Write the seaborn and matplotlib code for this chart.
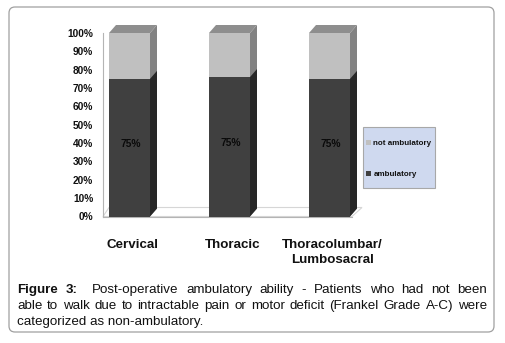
import matplotlib
matplotlib.use("Agg")
import matplotlib.pyplot as plt
import matplotlib.transforms as mtransforms
from matplotlib.patches import Polygon, Rectangle, FancyBboxPatch
import seaborn as sns
import pandas as pd

# data
regions = ["Cervical", "Thoracic", "Thoracolumbar/\nLumbosacral"]
ambulatory = [75, 76, 75]
not_ambulatory = [25, 24, 25]
value_labels = ["75%", "75%", "75%"]
series_labels = ["not ambulatory", "ambulatory"]
yticks = [0, 10, 20, 30, 40, 50, 60, 70, 80, 90, 100]
ytick_labels = [f"{v}%" for v in yticks]
caption_lines = [
    "Figure 3:  Post-operative ambulatory ability - Patients who had not been",
    "able to walk due to intractable pain or motor deficit (Frankel Grade A-C) were",
    "categorized as non-ambulatory.",
]

DARK, DARK_SIDE = "#404040", "#272727"
LIGHT, LIGHT_SIDE, LIGHT_TOP = "#c0c0c0", "#828282", "#8e8e8e"
TXT = "#111111"


def add_depth(ax, patch, side_color, top_color=None, ddx=0.0, ddy=0.0):
    x0, y0 = patch.get_x(), patch.get_y()
    x1, y1 = x0 + patch.get_width(), y0 + patch.get_height()
    side = Polygon([(x1, y0), (x1 + ddx, y0 + ddy), (x1 + ddx, y1 + ddy), (x1, y1)],
                   closed=True, facecolor=side_color, edgecolor="none",
                   clip_on=False, zorder=patch.get_zorder())
    ax.add_patch(side)
    if top_color is not None:
        top = Polygon([(x0, y1), (x1, y1), (x1 + ddx, y1 + ddy), (x0 + ddx, y1 + ddy)],
                      closed=True, facecolor=top_color, edgecolor="none",
                      clip_on=False, zorder=patch.get_zorder())
        ax.add_patch(top)


def justified_line(fig, renderer, text, y, x0, x1, size=9.6):
    words = text.split(" ")
    gaps = []
    items = []
    for w in words:
        if w == "":
            gaps[-1] += 1
            continue
        items.append(w)
        gaps.append(1)
    gaps = gaps[:-1]
    texts = []
    for i, w in enumerate(items):
        bold = i < 2 and text.startswith("Figure")
        texts.append(fig.text(0, y, w, transform=fig.dpi_scale_trans, fontsize=size,
                              weight="bold" if bold else "normal", va="baseline",
                              color=TXT))
    widths = [t.get_window_extent(renderer).width / fig.dpi for t in texts]
    unit = (x1 - x0 - sum(widths)) / sum(gaps)
    x = x0
    for i, t in enumerate(texts):
        t.set_x(x)
        x += widths[i] + (gaps[i] * unit if i < len(gaps) else 0)


def main():
    sns.set_style("white")
    plt.rcParams["font.family"] = ["Liberation Sans", "DejaVu Sans"]

    W, H = 505, 343
    fig = plt.figure(figsize=(W / 100, H / 100), dpi=100)
    ax = fig.add_axes([103 / W, (H - 216.5) / H, 249 / W, 183.5 / H])
    ax.patch.set_alpha(0)

    df = pd.DataFrame({"Region": regions, "ambulatory": ambulatory,
                       "not ambulatory": not_ambulatory})
    df["total"] = df["ambulatory"] + df["not ambulatory"]

    sns.barplot(data=df, x="Region", y="total", color=LIGHT, saturation=1,
                width=0.41, linewidth=0, ax=ax, zorder=3)
    sns.barplot(data=df, x="Region", y="ambulatory", color=DARK, saturation=1,
                width=0.41, linewidth=0, ax=ax, zorder=4)
    ax.set_xlim(-0.265, 2.225)
    ax.set_ylim(0, 100)

    # pixel depth of the fake 3D look, converted to data units
    ddx = 7 * (2.225 + 0.265) / 249
    ddy = 8 * 100 / 183.5
    light_bars, dark_bars = ax.containers[0], ax.containers[1]
    for p in light_bars:
        add_depth(ax, p, LIGHT_SIDE, LIGHT_TOP, ddx, ddy)
    for p in dark_bars:
        add_depth(ax, p, DARK_SIDE, None, ddx, ddy)

    # floor
    fx0, fx1 = ax.get_xlim()
    fdx = 10 * (fx1 - fx0) / 249
    fdy = 9 * 100 / 183.5
    floor = Polygon([(fx0, 0), (fx1, 0), (fx1 + fdx, fdy), (fx0 + fdx * 0.6, fdy)],
                    closed=True, facecolor="white", edgecolor="#d6d6d6", lw=0.8,
                    clip_on=False, zorder=1)
    ax.add_patch(floor)

    for t in ax.bar_label(dark_bars, labels=value_labels, label_type="center",
                          fontsize=7.4, weight="bold", color="#0a0a0a"):
        t.set_zorder(10)
        x, y = t.get_position()
        t.set_position((x + 1, y + 3))

    sns.despine(ax=ax)
    for s in ("left", "bottom"):
        ax.spines[s].set_color("#b4b4b4")
        ax.spines[s].set_linewidth(0.8)
    ax.set_yticks(yticks)
    ax.set_yticklabels(ytick_labels, fontsize=7.3, weight="bold", color=TXT)
    ax.tick_params(axis="y", length=0, pad=7)
    ax.tick_params(axis="x", length=0, pad=16.5)
    ax.set_xlabel("")
    ax.set_ylabel("")
    shift = mtransforms.ScaledTranslation(3 / 100, 0, fig.dpi_scale_trans)
    for lab in ax.get_xticklabels():
        lab.set_fontsize(9.6)
        lab.set_fontweight("bold")
        lab.set_color(TXT)
        lab.set_multialignment("center")
        lab.set_linespacing(1.25)
        lab.set_transform(lab.get_transform() + shift)

    # legend box
    fig.patches.append(Rectangle((363 / W, (H - 188) / H), 72 / W, 61 / H,
                                 transform=fig.transFigure, facecolor="#cfd9ef",
                                 edgecolor="#a8a8a8", lw=0.8, zorder=-1))
    leg = ax.legend(handles=[light_bars, dark_bars], labels=series_labels,
                    loc="upper left", bbox_to_anchor=(366 / W, (H - 140) / H),
                    bbox_transform=fig.transFigure, frameon=False,
                    prop={"size": 5.8, "weight": "bold"}, handlelength=0.6,
                    handleheight=0.6, handletextpad=0.3, labelspacing=2.9,
                    borderpad=0, borderaxespad=0)
    leg.set_zorder(20)
    for t in leg.get_texts():
        t.set_color(TXT)

    # outer rounded frame
    fig.patches.append(FancyBboxPatch((0.09, 0.11), 4.85, 3.25,
                                      boxstyle="round,pad=0,rounding_size=0.06",
                                      transform=fig.dpi_scale_trans, facecolor="none",
                                      edgecolor="#a0a0a0", lw=0.9, zorder=-1))

    renderer = fig.canvas.get_renderer()
    baselines = [293, 309, 324.5]
    for i, line in enumerate(caption_lines[:-1]):
        justified_line(fig, renderer, line, (H - baselines[i]) / 100, 0.17, 4.87)
    fig.text(0.17, (H - baselines[-1]) / 100, caption_lines[-1],
             transform=fig.dpi_scale_trans, fontsize=9.6, va="baseline", color=TXT)

    fig.savefig("out.png", dpi=100)


if __name__ == "__main__":
    main()
